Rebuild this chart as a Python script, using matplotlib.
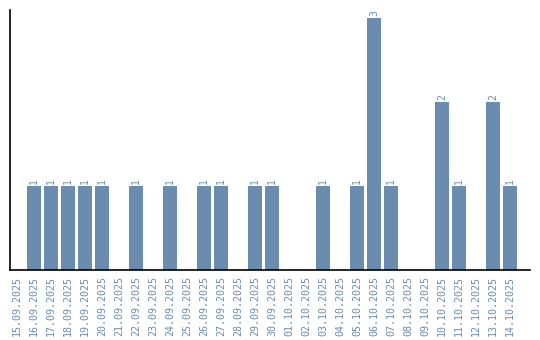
import matplotlib
matplotlib.use("Agg")
import matplotlib.pyplot as plt

dates = ["15.09.2025", "16.09.2025", "17.09.2025", "18.09.2025", "19.09.2025",
         "20.09.2025", "21.09.2025", "22.09.2025", "23.09.2025", "24.09.2025",
         "25.09.2025", "26.09.2025", "27.09.2025", "28.09.2025", "29.09.2025",
         "30.09.2025", "01.10.2025", "02.10.2025", "03.10.2025", "04.10.2025",
         "05.10.2025", "06.10.2025", "07.10.2025", "08.10.2025", "09.10.2025",
         "10.10.2025", "11.10.2025", "12.10.2025", "13.10.2025", "14.10.2025"]
counts = [0, 1, 1, 1, 1, 1, 0, 1, 0, 1,
          0, 1, 1, 0, 1, 1, 0, 0, 1, 0,
          1, 3, 1, 0, 0, 2, 1, 0, 2, 1]

color = "#6a8caf"
font = "DejaVu Sans Mono"

fig = plt.figure(figsize=(5.4, 3.4), dpi=100)
ax = fig.add_axes([10/540, 70/340, 520/540, 260/340])
x = list(range(len(dates)))
ax.bar(x, counts, width=0.82, color=color)
for xi, v in zip(x, counts):
    if v > 0:
        ax.text(xi, v + 0.02, str(v), rotation=90, ha="center", va="bottom",
                color=color, fontsize=7, family=font)
ax.set_xlim(-0.41, 30.18)
ax.set_ylim(0, 3.095)
ax.set_xticks(x)
ax.set_xticklabels(dates, rotation=90, color=color, fontsize=7.2, family=font)
ax.tick_params(axis="x", length=0, pad=4)
ax.set_yticks([])
ax.spines["top"].set_visible(False)
ax.spines["right"].set_visible(False)
ax.spines["left"].set_color("black")
ax.spines["bottom"].set_color("black")
ax.spines["left"].set_linewidth(1.2)
ax.spines["bottom"].set_linewidth(1.2)
fig.savefig("out.png", dpi=100)
